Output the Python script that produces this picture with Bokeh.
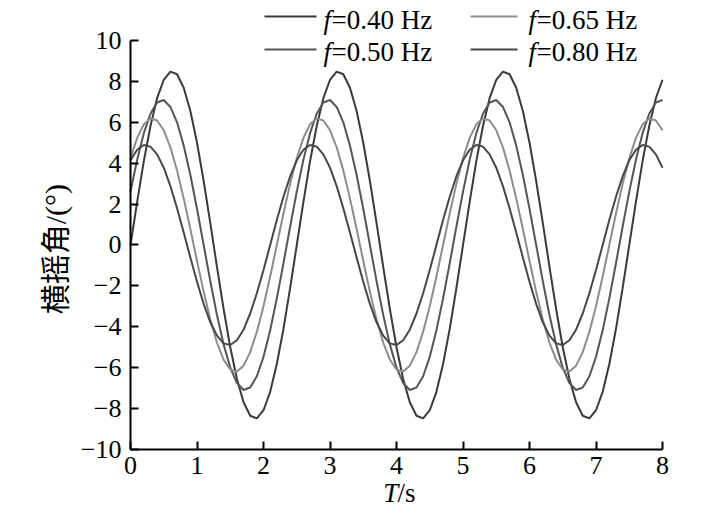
import math
from bokeh.plotting import figure
from bokeh.models import Range1d, FixedTicker, Label
from bokeh.embed import file_html
from bokeh.resources import INLINE

# time samples (s)
t = [0.0, 0.1, 0.2, 0.3, 0.4, 0.5, 0.6, 0.7, 0.8, 0.9,
     1.0, 1.1, 1.2, 1.3, 1.4, 1.5, 1.6, 1.7, 1.8, 1.9,
     2.0, 2.1, 2.2, 2.3, 2.4, 2.5, 2.6, 2.7, 2.8, 2.9,
     3.0, 3.1, 3.2, 3.3, 3.4, 3.5, 3.6, 3.7, 3.8, 3.9,
     4.0, 4.1, 4.2, 4.3, 4.4, 4.5, 4.6, 4.7, 4.8, 4.9,
     5.0, 5.1, 5.2, 5.3, 5.4, 5.5, 5.6, 5.7, 5.8, 5.9,
     6.0, 6.1, 6.2, 6.3, 6.4, 6.5, 6.6, 6.7, 6.8, 6.9,
     7.0, 7.1, 7.2, 7.3, 7.4, 7.5, 7.6, 7.7, 7.8, 7.9, 8.0]

# roll angle (deg), f = 0.40 Hz
roll_040 = [0.00, 2.11, 4.10, 5.82, 7.18, 8.08, 8.48, 8.35, 7.69, 6.55,
            5.00, 3.13, 1.07, -1.07, -3.13, -5.00, -6.55, -7.69, -8.35, -8.48,
            -8.08, -7.18, -5.82, -4.10, -2.11,
            0.00, 2.11, 4.10, 5.82, 7.18, 8.08, 8.48, 8.35, 7.69, 6.55,
            5.00, 3.13, 1.07, -1.07, -3.13, -5.00, -6.55, -7.69, -8.35, -8.48,
            -8.08, -7.18, -5.82, -4.10, -2.11,
            0.00, 2.11, 4.10, 5.82, 7.18, 8.08, 8.48, 8.35, 7.69, 6.55,
            5.00, 3.13, 1.07, -1.07, -3.13, -5.00, -6.55, -7.69, -8.35, -8.48,
            -8.08, -7.18, -5.82, -4.10, -2.11,
            0.00, 2.11, 4.10, 5.82, 7.18, 8.08]

# f = 0.50 Hz
roll_050 = [2.61, 4.17, 5.47, 6.42, 6.97, 7.09, 6.75, 6.00, 4.86, 3.42,
            1.77, 0.00, -1.77, -3.42, -4.86, -6.00, -6.75, -7.09, -6.97, -6.42,
            -5.47, -4.17, -2.61, -0.89, 0.89,
            2.61, 4.17, 5.47, 6.42, 6.97, 7.09, 6.75, 6.00, 4.86, 3.42,
            1.77, 0.00, -1.77, -3.42, -4.86, -6.00, -6.75, -7.09, -6.97, -6.42,
            -5.47, -4.17, -2.61, -0.89, 0.89,
            2.61, 4.17, 5.47, 6.42, 6.97, 7.09, 6.75, 6.00, 4.86, 3.42,
            1.77, 0.00, -1.77, -3.42, -4.86, -6.00, -6.75, -7.09, -6.97, -6.42,
            -5.47, -4.17, -2.61, -0.89, 0.89,
            2.61, 4.17, 5.47, 6.42, 6.97, 7.09]

# f = 0.65 Hz
roll_065 = [4.24, 5.24, 5.90, 6.19, 6.09, 5.61, 4.78, 3.64, 2.28, 0.78,
            -0.78, -2.28, -3.64, -4.78, -5.61, -6.09, -6.19, -5.90, -5.24, -4.24,
            -2.99, -1.54, 0.00, 1.54, 2.99,
            4.24, 5.24, 5.90, 6.19, 6.09, 5.61, 4.78, 3.64, 2.28, 0.78,
            -0.78, -2.28, -3.64, -4.78, -5.61, -6.09, -6.19, -5.90, -5.24, -4.24,
            -2.99, -1.54, 0.00, 1.54, 2.99,
            4.24, 5.24, 5.90, 6.19, 6.09, 5.61, 4.78, 3.64, 2.28, 0.78,
            -0.78, -2.28, -3.64, -4.78, -5.61, -6.09, -6.19, -5.90, -5.24, -4.24,
            -2.99, -1.54, 0.00, 1.54, 2.99,
            4.24, 5.24, 5.90, 6.19, 6.09, 5.61]

# f = 0.80 Hz
roll_080 = [4.14, 4.66, 4.89, 4.81, 4.43, 3.78, 2.88, 1.80, 0.61, -0.61,
            -1.80, -2.88, -3.78, -4.43, -4.81, -4.89, -4.66, -4.14, -3.35, -2.36,
            -1.22, 0.00, 1.22, 2.36, 3.35,
            4.14, 4.66, 4.89, 4.81, 4.43, 3.78, 2.88, 1.80, 0.61, -0.61,
            -1.80, -2.88, -3.78, -4.43, -4.81, -4.89, -4.66, -4.14, -3.35, -2.36,
            -1.22, 0.00, 1.22, 2.36, 3.35,
            4.14, 4.66, 4.89, 4.81, 4.43, 3.78, 2.88, 1.80, 0.61, -0.61,
            -1.80, -2.88, -3.78, -4.43, -4.81, -4.89, -4.66, -4.14, -3.35, -2.36,
            -1.22, 0.00, 1.22, 2.36, 3.35,
            4.14, 4.66, 4.89, 4.81, 4.43, 3.78]

series_labels = ["=0.40 Hz", "=0.50 Hz", "=0.65 Hz", "=0.80 Hz"]
series_values = [roll_040, roll_050, roll_065, roll_080]
series_colors = ["#3a3a3a", "#555555", "#8c8c8c", "#474747"]

x_ticks = [0, 1, 2, 3, 4, 5, 6, 7, 8]
y_ticks = [-10, -8, -6, -4, -2, 0, 2, 4, 6, 8, 10]
x_label_main, x_label_unit = "T", "/s"
y_label = "横摇角/(°)"

SERIF = "'Liberation Serif', 'Times New Roman', serif"
CJK = "'Liberation Serif', 'Noto Sans CJK SC', serif"

W, H = 701, 511
# frame covers the whole canvas; axes are pinned inside it
p = figure(width=W, height=H, output_backend="svg", toolbar_location=None,
           x_range=Range1d(-1.955, 8.586), y_range=Range1d(-13.032, 11.956),
           min_border_left=0, min_border_right=0, min_border_top=0,
           min_border_bottom=0)
p.outline_line_color = None
p.xgrid.visible = False
p.ygrid.visible = False
p.background_fill_color = "white"
p.border_fill_color = "white"

for vals, col in zip(series_values, series_colors):
    p.line(t, vals, line_color=col, line_width=2)

# axes
for ax in (p.xaxis[0], p.yaxis[0]):
    ax.axis_line_width = 2
    ax.axis_line_color = "black"
    ax.major_tick_line_width = 2
    ax.major_tick_in = 8
    ax.major_tick_out = 0
    ax.minor_tick_line_color = None
    ax.major_label_text_font = SERIF
    ax.major_label_text_font_size = "26px"
    ax.major_label_text_color = "black"

p.xaxis[0].ticker = FixedTicker(ticks=x_ticks)
p.yaxis[0].ticker = FixedTicker(ticks=y_ticks)
p.xaxis[0].bounds = (0, 8)
p.yaxis[0].bounds = (-10, 10)
p.xaxis[0].fixed_location = -10
p.yaxis[0].fixed_location = 0
p.xaxis[0].major_label_standoff = 8
p.yaxis[0].major_label_standoff = 9
p.yaxis[0].major_label_overrides = {v: ("\u2212" + str(abs(v)) if v < 0 else str(v)) for v in y_ticks}

# axis titles
p.add_layout(Label(x=-1.128, y=-0.2, text=y_label, angle=math.pi / 2,
                   text_font=CJK, text_font_size="30px", text_color="black",
                   text_align="center", text_baseline="middle"))
p.add_layout(Label(x=3.8, y=-12.15, text=x_label_main, text_font=SERIF,
                   text_font_size="27px", text_font_style="italic", text_color="black",
                   text_baseline="middle", text_align="left"))
p.add_layout(Label(x=4.015, y=-12.15, text=x_label_unit, text_font=SERIF,
                   text_font_size="27px", text_baseline="middle", text_color="black",
                   text_align="left"))

# legend (two columns, two rows)
leg_x = [[2.015, 2.797], [2.015, 2.797], [5.113, 5.82], [5.113, 5.82]]
leg_line_y = [11.174, 9.56, 11.174, 9.56]
leg_text_y = [11.0, 9.44, 11.0, 9.44]
leg_fx = [2.902, 2.902, 5.985, 5.985]
for i in range(4):
    p.line(leg_x[i], [leg_line_y[i], leg_line_y[i]], line_color=series_colors[i], line_width=2)
    p.add_layout(Label(x=leg_fx[i], y=leg_text_y[i], text="f", text_font=SERIF,
                       text_font_size="27px", text_font_style="italic", text_color="black",
                       text_baseline="middle", text_align="left"))
    p.add_layout(Label(x=leg_fx[i] + 0.12, y=leg_text_y[i], text=series_labels[i],
                       text_font=SERIF, text_font_size="27px", text_color="black",
                       text_baseline="middle", text_align="left"))

open("out.html", "w").write(file_html(p, INLINE))
